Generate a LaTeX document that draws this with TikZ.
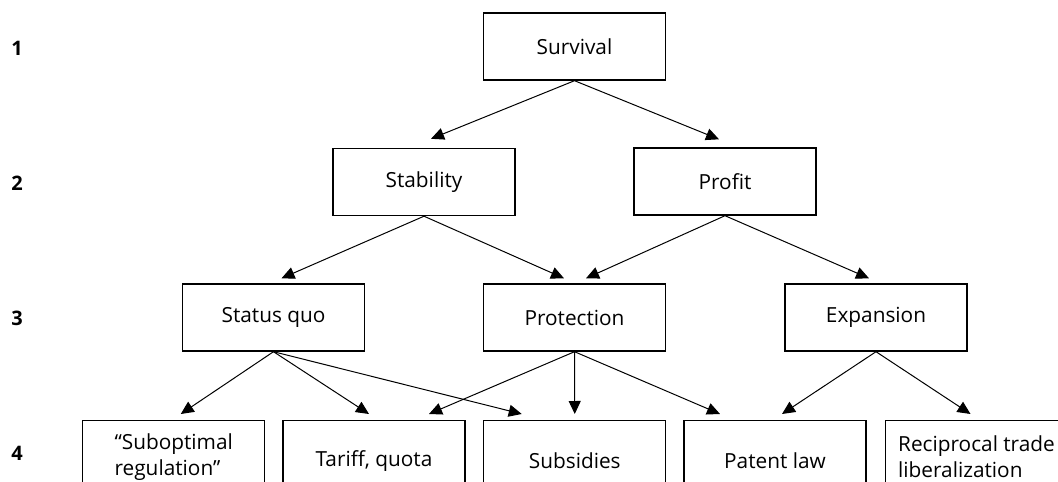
\documentclass[tikz,border=0pt]{standalone}
\usepackage{fontspec}
\setmainfont{Open Sans}
\usetikzlibrary{arrows.meta}

\begin{document}
\begin{tikzpicture}
  [x=0.5pt,y=-0.5pt,
   box/.style={draw,line width=0.7pt,minimum width=91pt,minimum height=33.5pt,inner sep=0pt,font=\fontsize{10.4}{13}\selectfont},
   lowbox/.style={box,anchor=north,minimum height=40pt,align=left},
   twoline/.style={lowbox,minimum height=36pt},
   level/.style={font=\fontsize{10}{12}\selectfont\bfseries},
   arr/.style={line width=0.5pt,-{Triangle[length=6.5pt,width=6pt]}}]
  \clip (0,0) rectangle (1058,481);

  % level numbers
  \node[level] (l1) at (17,48) {1};
  \node[level] (l2) at (17,183) {2};
  \node[level] (l3) at (17,318) {3};
  \node[level] (l4) at (17,453) {4};

  \node[box] (surv) at (574.5,46.5) {Survival};
  \node[box] (stab) at (424,182)   {Stability};
  \node[box] (prof) at (725,181.5) {Profit};
  \node[box] (sq)   at (273.5,317.5) {Status quo};
  \node[box] (prot) at (574.5,317.5) {Protection};
  \node[box] (expa) at (876,317.5)   {Expansion};
  \node[twoline] (sub)  at (173.75,420) {``Suboptimal\\regulation''};
  \node[lowbox] (tar)  at (374,420)    {Tariff, quota};
  \node[lowbox] (subs) at (574.75,420) {Subsidies};
  \node[lowbox] (pat)  at (775,420)    {Patent law};
  \node[twoline] (rec)  at (976.5,420)  {Reciprocal trade\\liberalization};

  \foreach \from/\to/\dx/\dy in {surv/stab/7/-9, surv/prof/-6/-8,
      stab/sq/8/-5, stab/prot/-10.5/-5, prof/prot/11.5/-5, prof/expa/-7/-5,
      sq/sub/7/-6, sq/tar/-5/-6, sq/subs/-53/-6,
      prot/tar/55/-6, prot/subs/0/-6, prot/pat/-55/-6,
      expa/pat/7/-6, expa/rec/-6/-6}
    \draw[arr] (\from.south) -- ([shift={(\dx,\dy)}]\to.north);

\end{tikzpicture}
\end{document}
